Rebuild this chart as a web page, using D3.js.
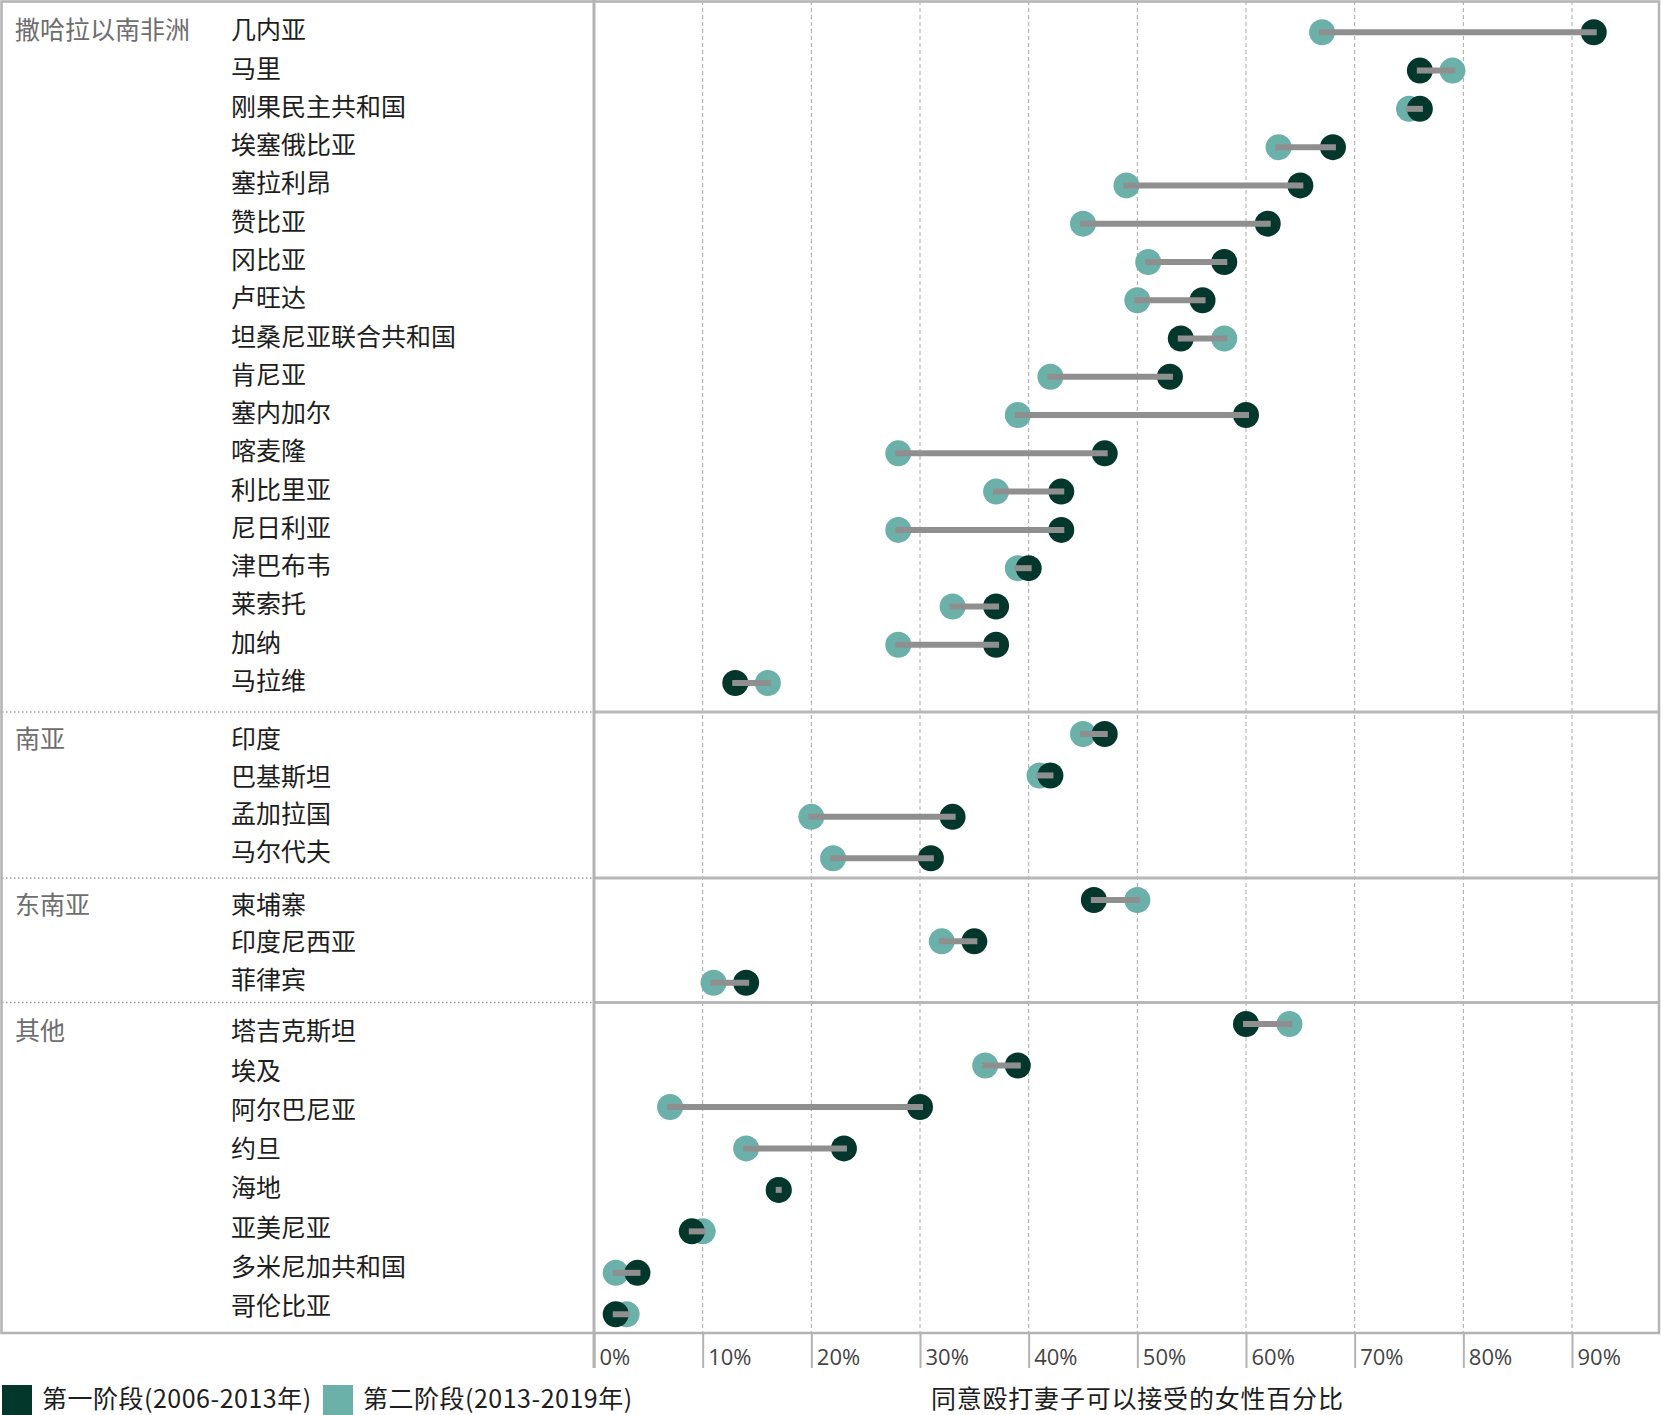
<!DOCTYPE html>
<html>
<head>
<meta charset="utf-8">
<script src="https://cdn.jsdelivr.net/npm/d3@7"></script>
<style>
  body { margin: 0; background: #fff; }
  svg { display: block; }
  .cjk { font-family: "Noto Sans CJK SC", "Noto Sans", sans-serif; }
</style>
</head>
<body>
<svg id="chart" width="1661" height="1415"></svg>
<script>
// region names
const regions = ["撒哈拉以南非洲", "南亚", "东南亚", "其他"];

// 撒哈拉以南非洲
const ssaCountries = ["几内亚", "马里", "刚果民主共和国", "埃塞俄比亚", "塞拉利昂", "赞比亚", "冈比亚", "卢旺达",
  "坦桑尼亚联合共和国", "肯尼亚", "塞内加尔", "喀麦隆", "利比里亚", "尼日利亚", "津巴布韦", "莱索托", "加纳", "马拉维"];
const ssaPhase1 = [92, 76, 76, 68, 65, 62, 58, 56, 54, 53, 60, 47, 43, 43, 40, 37, 37, 13];
const ssaPhase2 = [67, 79, 75, 63, 49, 45, 51, 50, 58, 42, 39, 28, 37, 28, 39, 33, 28, 16];

// 南亚
const saCountries = ["印度", "巴基斯坦", "孟加拉国", "马尔代夫"];
const saPhase1 = [47, 42, 33, 31];
const saPhase2 = [45, 41, 20, 22];

// 东南亚
const seaCountries = ["柬埔寨", "印度尼西亚", "菲律宾"];
const seaPhase1 = [46, 35, 14];
const seaPhase2 = [50, 32, 11];

// 其他
const otherCountries = ["塔吉克斯坦", "埃及", "阿尔巴尼亚", "约旦", "海地", "亚美尼亚", "多米尼加共和国", "哥伦比亚"];
const otherPhase1 = [60, 39, 30, 23, 17, 9, 4, 2];
const otherPhase2 = [64, 36, 7, 14, 17, 10, 2, 3];

const tickValues = [0, 10, 20, 30, 40, 50, 60, 70, 80, 90];
const legendLabels = ["第一阶段(2006-2013年)", "第二阶段(2013-2019年)"];
const axisTitle = "同意殴打妻子可以接受的女性百分比";

const darkColor = "#04372c";
const tealColor = "#6cb0aa";
const frameColor = "#b3b3b3";

// build groups
const groups = [
  { name: regions[0], countries: ssaCountries, p1: ssaPhase1, p2: ssaPhase2 },
  { name: regions[1], countries: saCountries, p1: saPhase1, p2: saPhase2 },
  { name: regions[2], countries: seaCountries, p1: seaPhase1, p2: seaPhase2 },
  { name: regions[3], countries: otherCountries, p1: otherPhase1, p2: otherPhase2 }
];

// panel bounds, dot rows and label rows (labels are spaced a bit tighter than dots)
const panels = [
  { top: 1, bottom: 712, rows: [32.3, 683], labels: [32.3, 683] },
  { top: 712, bottom: 878, rows: [734, 858.3], labels: [741, 853.6] },
  { top: 878, bottom: 1002.5, rows: [900, 982.7], labels: [906.8, 982.1] },
  { top: 1002.5, bottom: 1333, rows: [1024, 1314.3], labels: [1033.4, 1308.1] }
];

const plotLeft = 594, plotRight = 1659, plotTop = 1, plotBottom = 1333;

let svg = d3.select("#chart");

let x = d3.scaleLinear().domain([0, 90]).range([594, 1572]);

// dashed grid lines
svg.append("g")
  .selectAll("line")
  .data(tickValues.slice(1))
  .enter().append("line")
  .attr("x1", d => x(d)).attr("x2", d => x(d))
  .attr("y1", plotTop).attr("y2", plotBottom)
  .attr("stroke", "#a8a8a8")
  .attr("stroke-width", 1)
  .attr("stroke-dasharray", "4,3");

// bottom axis with long ticks, labels right of the tick
let axis = d3.axisBottom(x)
  .tickValues(tickValues)
  .tickSize(35)
  .tickFormat(d => d + "%");

let axisG = svg.append("g")
  .attr("transform", "translate(0," + plotBottom + ")")
  .call(axis);
axisG.select(".domain").remove();
axisG.selectAll(".tick line").attr("stroke", frameColor).attr("stroke-width", 2);
axisG.selectAll(".tick text")
  .attr("x", 5)
  .attr("y", 32)
  .attr("dy", 0)
  .attr("text-anchor", "start")
  .attr("fill", "#444")
  .style("font-family", "'Open Sans', sans-serif")
  .style("font-size", "22px");

// group separators
panels.slice(1).forEach(p => {
  svg.append("line")
    .attr("x1", 2).attr("x2", plotLeft - 2)
    .attr("y1", p.top).attr("y2", p.top)
    .attr("stroke", "#a0a0a0")
    .attr("stroke-width", 1.5)
    .attr("stroke-dasharray", "1.5,2.5");
  svg.append("line")
    .attr("x1", plotLeft).attr("x2", plotRight)
    .attr("y1", p.top).attr("y2", p.top)
    .attr("stroke", "#b8b8b8")
    .attr("stroke-width", 3);
});

// outer frame and 0% line
svg.append("rect")
  .attr("x", 1.5).attr("y", 1.5)
  .attr("width", plotRight - 1.5).attr("height", plotBottom - 1.5)
  .attr("fill", "none")
  .attr("stroke", frameColor)
  .attr("stroke-width", 2.5);
svg.append("line")
  .attr("x1", x(0)).attr("x2", x(0))
  .attr("y1", 0).attr("y2", plotBottom + 35)
  .attr("stroke", frameColor)
  .attr("stroke-width", 3);

// rows for each group
groups.forEach((g, gi) => {
  let p = panels[gi];
  let y = d3.scalePoint().domain(g.countries).range(p.rows);
  let yLabel = d3.scalePoint().domain(g.countries).range(p.labels);
  let rows = g.countries.map((c, i) => ({ country: c, p1: g.p1[i], p2: g.p2[i] }));

  let grp = svg.append("g");

  // region label
  grp.append("text")
    .attr("class", "cjk")
    .attr("x", 15)
    .attr("y", yLabel(g.countries[0]))
    .attr("dy", "0.28em")
    .attr("fill", "#6e6e6e")
    .style("font-size", "25px")
    .text(g.name);

  // country labels
  grp.selectAll(".country")
    .data(rows)
    .enter().append("text")
    .attr("class", "country cjk")
    .attr("x", 231)
    .attr("y", d => yLabel(d.country))
    .attr("dy", "0.28em")
    .attr("fill", "#1e1e1e")
    .style("font-size", "25px")
    .text(d => d.country);

  // second phase dots (drawn under)
  grp.selectAll(".p2")
    .data(rows)
    .enter().append("circle")
    .attr("class", "p2")
    .attr("cx", d => x(d.p2))
    .attr("cy", d => y(d.country))
    .attr("r", 13)
    .attr("fill", tealColor);

  // first phase dots
  grp.selectAll(".p1")
    .data(rows)
    .enter().append("circle")
    .attr("class", "p1")
    .attr("cx", d => x(d.p1))
    .attr("cy", d => y(d.country))
    .attr("r", 13)
    .attr("fill", darkColor);

  // connecting line on top
  grp.selectAll(".link")
    .data(rows)
    .enter().append("line")
    .attr("class", "link")
    .attr("x1", d => x(d.p1))
    .attr("x2", d => x(d.p2))
    .attr("y1", d => y(d.country))
    .attr("y2", d => y(d.country))
    .attr("stroke", "#8f8f8f")
    .attr("stroke-width", 6)
    .attr("stroke-linecap", "square");
});

// legend
let legend = svg.append("g");
let legendX = [2, 323];
[darkColor, tealColor].forEach((c, i) => {
  legend.append("rect")
    .attr("x", legendX[i]).attr("y", 1385)
    .attr("width", 30).attr("height", 30)
    .attr("fill", c);
  legend.append("text")
    .attr("class", "cjk")
    .attr("x", legendX[i] + 40)
    .attr("y", 1407.5)
    .attr("fill", "#1e1e1e")
    .style("font-size", "25px")
    .style("letter-spacing", "0.5px")
    .text(legendLabels[i]);
});

// axis title
svg.append("text")
  .attr("class", "cjk")
  .attr("x", x(50))
  .attr("y", 1407.5)
  .attr("text-anchor", "middle")
  .attr("fill", "#1e1e1e")
  .style("font-size", "25px")
  .style("letter-spacing", "0.8px")
  .text(axisTitle);
</script>
</body>
</html>
